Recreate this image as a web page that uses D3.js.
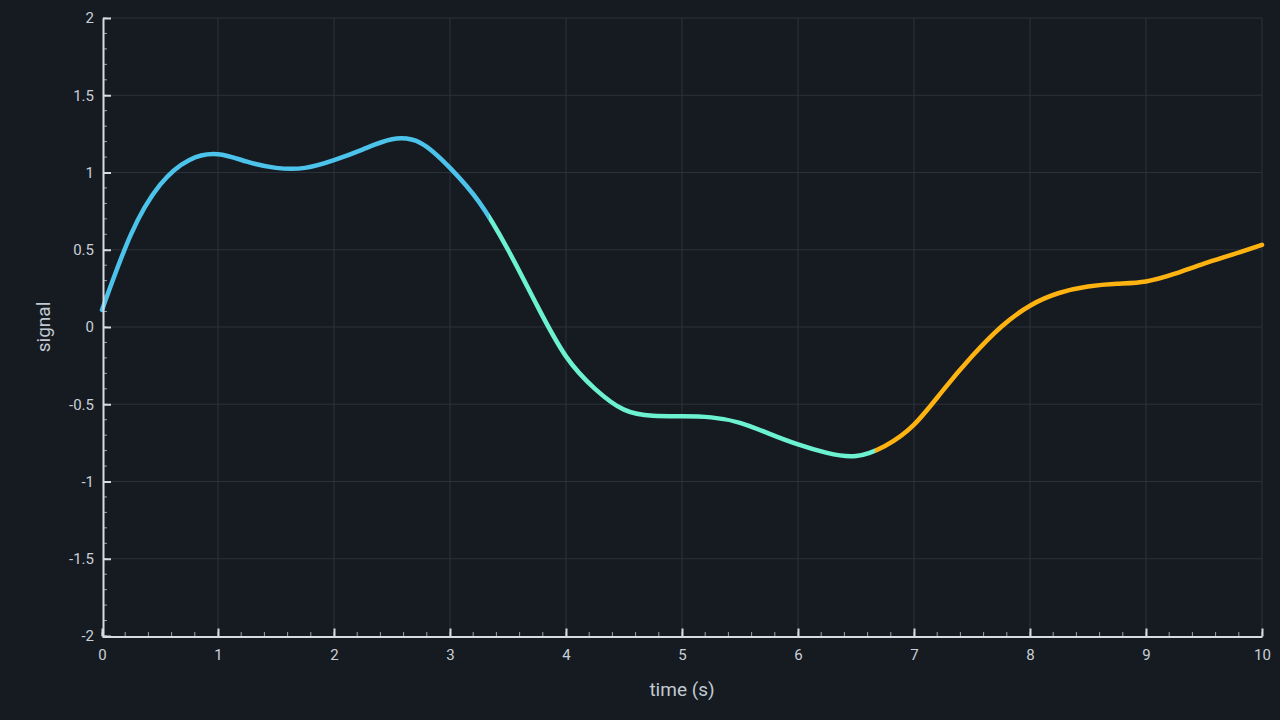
<!DOCTYPE html>
<html>
  <head>
    <script src="https://cdn.jsdelivr.net/npm/d3@7"></script>
    <style>
      html, body { margin: 0; padding: 0; background: #161b22; }
      svg { display: block; font-family: Roboto, "Noto Sans", sans-serif; }
    </style>
  </head>
  <body>
  <script>
  var width = 1280, height = 720;
  var margin = {top: 18, right: 18, bottom: 84, left: 102};

  var time = [0, 0.25, 0.5, 0.75, 1, 1.25, 1.5, 1.75, 2, 2.25, 2.5, 2.75, 3, 3.25, 3.5, 3.75, 4,
              4.25, 4.5, 4.75, 5, 5.25, 5.5, 5.75, 6, 6.25, 6.5, 6.75, 7, 7.25, 7.5, 7.75, 8,
              8.25, 8.5, 8.75, 9, 9.25, 9.5, 9.75, 10];
  var signal = [0.11, 0.6, 0.92, 1.08, 1.118, 1.07, 1.03, 1.03, 1.08, 1.15, 1.215, 1.19, 1.03,
                0.81, 0.5, 0.14, -0.19, -0.4, -0.535, -0.575, -0.578, -0.585, -0.62, -0.69, -0.76,
                -0.815, -0.835, -0.77, -0.632, -0.41, -0.19, 0.0, 0.138, 0.22, 0.262, 0.28, 0.295,
                0.345, 0.41, 0.47, 0.532];
  // colour bands along time
  var bandStops = [0, 10 / 3, 20 / 3, 10];
  var bandColors = ["#4cc3ea", "#6cf2d0", "#ffb310"];

  var xTicks = [0, 1, 2, 3, 4, 5, 6, 7, 8, 9, 10];
  var yTicks = [-2, -1.5, -1, -0.5, 0, 0.5, 1, 1.5, 2];
  var xMinor = d3.range(0, 10.001, 0.2);
  var yMinor = d3.range(-2, 2.001, 0.1);

  var data = time.map(function(t, i) { return {t: t, v: signal[i]}; });

  var svg = d3.select("body").append("svg")
      .attr("width", width)
      .attr("height", height);

  var x = d3.scaleLinear().domain([0, 10]).range([margin.left, width - margin.right]);
  var y = d3.scaleLinear().domain([-2, 2]).range([height - margin.bottom, margin.top]);

  // grid
  svg.append("g").selectAll("line").data(xTicks.slice(1)).enter().append("line")
      .attr("x1", function(d) { return x(d); }).attr("x2", function(d) { return x(d); })
      .attr("y1", y(2)).attr("y2", y(-2))
      .attr("stroke", "#2b313a").attr("stroke-width", 1);
  svg.append("g").selectAll("line").data(yTicks.slice(1)).enter().append("line")
      .attr("y1", function(d) { return y(d); }).attr("y2", function(d) { return y(d); })
      .attr("x1", x(0)).attr("x2", x(10))
      .attr("stroke", "#2b313a").attr("stroke-width", 1);

  // gradient with hard stops for the three colour bands
  var grad = svg.append("defs").append("linearGradient")
      .attr("id", "band")
      .attr("gradientUnits", "userSpaceOnUse")
      .attr("x1", x(0)).attr("x2", x(10)).attr("y1", 0).attr("y2", 0);
  bandColors.forEach(function(c, i) {
    grad.append("stop").attr("offset", (bandStops[i] / 10 * 100) + "%").attr("stop-color", c);
    grad.append("stop").attr("offset", (bandStops[i + 1] / 10 * 100) + "%").attr("stop-color", c);
  });

  var line = d3.line()
      .x(function(d) { return x(d.t); })
      .y(function(d) { return y(d.v); })
      .curve(d3.curveNatural);

  svg.append("path")
      .datum(data)
      .attr("d", line)
      .attr("fill", "none")
      .attr("stroke", "url(#band)")
      .attr("stroke-width", 4.5)
      .attr("stroke-linecap", "round");

  // minor ticks
  svg.append("g").selectAll("line").data(xMinor).enter().append("line")
      .attr("x1", function(d) { return x(d); }).attr("x2", function(d) { return x(d); })
      .attr("y1", y(-2)).attr("y2", y(-2) - 4)
      .attr("stroke", "#9aa3ad").attr("stroke-width", 1);
  svg.append("g").selectAll("line").data(yMinor).enter().append("line")
      .attr("y1", function(d) { return y(d); }).attr("y2", function(d) { return y(d); })
      .attr("x1", x(0) + 1).attr("x2", x(0) + 5)
      .attr("stroke", "#9aa3ad").attr("stroke-width", 1);

  // axes
  var xAxis = svg.append("g")
      .attr("transform", "translate(0," + (y(-2) + 0.5) + ")")
      .call(d3.axisBottom(x).tickValues(xTicks).tickFormat(d3.format("d"))
        .tickSizeInner(-8).tickSizeOuter(0).tickPadding(13));
  var yAxis = svg.append("g")
      .attr("transform", "translate(" + (x(0) + 1) + ",0)")
      .call(d3.axisLeft(y).tickValues(yTicks).tickFormat(function(d) { return String(d); })
        .tickSizeInner(-8).tickSizeOuter(0).tickPadding(9));

  [xAxis, yAxis].forEach(function(g) {
    g.select(".domain").attr("stroke", "#d7dce2").attr("stroke-width", 2);
    g.selectAll(".tick line").attr("stroke", "#d7dce2").attr("stroke-width", 2);
    g.selectAll(".tick text").attr("fill", "#c9d0d7").attr("font-size", 15)
      .attr("font-family", "Roboto, sans-serif");
  });

  // titles
  svg.append("text")
      .attr("x", x(5)).attr("y", 696)
      .attr("text-anchor", "middle")
      .attr("fill", "#c2c9d1").attr("font-size", 19)
      .text("time (s)");
  svg.append("text")
      .attr("transform", "translate(50," + y(0) + ") rotate(-90)")
      .attr("text-anchor", "middle")
      .attr("fill", "#c2c9d1").attr("font-size", 19)
      .text("signal");
  </script>
  </body>
</html>
